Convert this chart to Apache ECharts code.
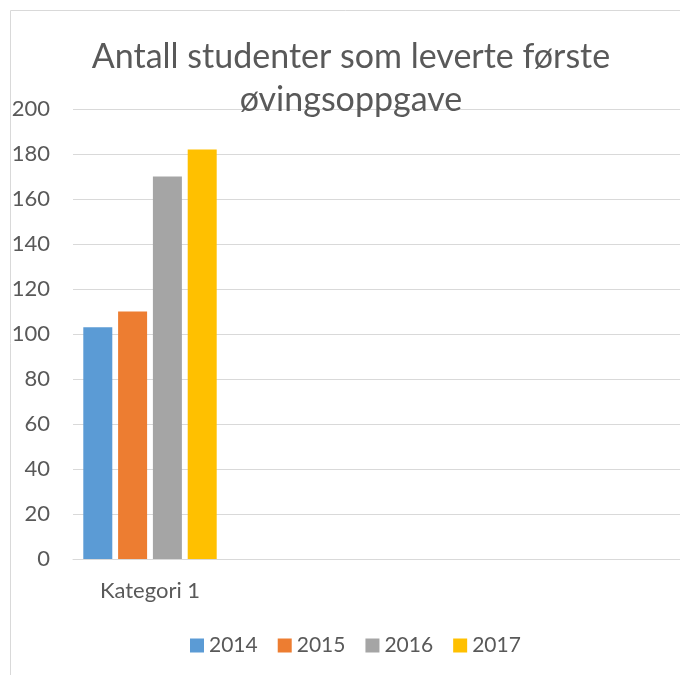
<!DOCTYPE html>
<html>
<head>
<meta charset="utf-8">
<script src="https://cdn.jsdelivr.net/npm/echarts@6/dist/echarts.min.js"></script>
<style>
  html, body { margin: 0; padding: 0; background: #fff; }
  #chart { width: 680px; height: 675px; }
</style>
</head>
<body>
<div id="chart"></div>
<script>
// data
var categories = ['Kategori 1', '', '', ''];
var years = ['2014', '2015', '2016', '2017'];
var v2014 = [103];
var v2015 = [110];
var v2016 = [170];
var v2017 = [182];
var yTicks = [0, 200, 20]; // min, max, step

var colors = ['#5b9bd5', '#ed7d31', '#a5a5a5', '#ffc000'];
var textColor = '#595959';
var font = 'Lato';

var chart = echarts.init(document.getElementById('chart'));

var seriesValues = [v2014, v2015, v2016, v2017];
var series = years.map(function (y, i) {
    return {
        name: y,
        type: 'bar',
        barWidth: 29,
        barGap: '20%',
        itemStyle: { color: colors[i] },
        data: seriesValues[i]
    };
});

var option = {
    animation: false,
    textStyle: { fontFamily: font },
    graphic: [{
        // chart frame, cropped at right and bottom
        type: 'rect',
        shape: { x: 10.5, y: 10.5, width: 1000, height: 1000 },
        style: { fill: 'none', stroke: '#d9d9d9', lineWidth: 1 },
        silent: true
    }],
    title: {
        text: 'Antall studenter som leverte første\nøvingsoppgave',
        left: 346,
        textAlign: 'center',
        top: 31,
        textStyle: {
            fontFamily: font,
            fontSize: 34,
            fontWeight: 'normal',
            color: textColor,
            lineHeight: 43
        }
    },
    legend: {
        data: years,
        left: 185,
        top: 630,
        icon: 'rect',
        itemWidth: 14,
        itemHeight: 14,
        itemGap: 20,
        textStyle: { fontFamily: font, fontSize: 21, color: textColor }
    },
    grid: {
        left: 73,
        top: 109,
        width: 616,
        height: 450,
        outerBoundsMode: 'none',
        containLabel: false
    },
    xAxis: {
        type: 'category',
        data: categories,
        axisLine: { lineStyle: { color: '#d9d9d9', width: 1 } },
        axisTick: { show: false },
        axisLabel: { fontFamily: font, fontSize: 22, color: textColor, margin: 21 }
    },
    yAxis: {
        type: 'value',
        min: yTicks[0],
        max: yTicks[1],
        interval: yTicks[2],
        axisLine: { show: false },
        axisTick: { show: false },
        splitLine: { lineStyle: { color: '#d9d9d9', width: 1 } },
        axisLabel: { fontFamily: font, fontSize: 22, color: textColor, margin: 23 }
    },
    series: series
};

chart.setOption(option);
</script>
</body>
</html>
